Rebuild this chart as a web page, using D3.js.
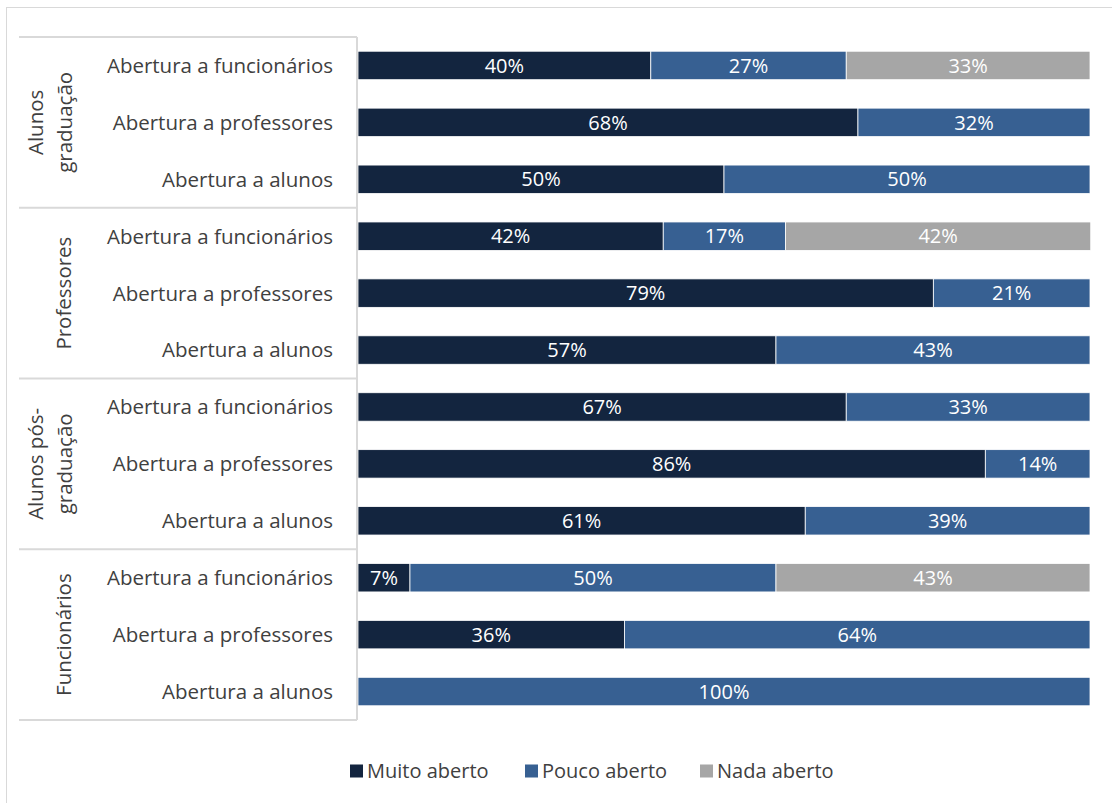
<!DOCTYPE html>
<html>
<head>
<meta charset="utf-8">
<script src="https://cdn.jsdelivr.net/npm/d3@7"></script>
<style>
  body { margin: 0; background: #fff; }
  svg { display: block; font-family: "Open Sans", sans-serif; }
</style>
</head>
<body>
<svg width="1112" height="803"></svg>
<script>
// groups (top to bottom) and the rows inside each group
const groups = [["Alunos", "graduação"], ["Professores"], ["Alunos pós-", "graduação"], ["Funcionários"]];
const rows = ["Abertura a funcionários", "Abertura a professores", "Abertura a alunos"];
const seriesNames = ["Muito aberto", "Pouco aberto", "Nada aberto"];

// shares per row, in the order groups x rows
const muito = [40.0, 68.3, 50.0, 41.7, 78.6, 57.1, 66.7, 85.7, 61.1, 7.1, 36.4, 0];
const pouco = [26.7, 31.7, 50.0, 16.7, 21.4, 42.9, 33.3, 14.3, 38.9, 50.0, 63.6, 100];
const nada  = [33.3, 0, 0, 41.7, 0, 0, 0, 0, 0, 42.9, 0, 0];

const colors = ["#13253f", "#376092", "#a6a6a6"];

const svg = d3.select("svg");

// outer chart frame
svg.append("rect")
    .attr("x", 6.5).attr("y", 7.5)
    .attr("width", 1120).attr("height", 820)
    .attr("fill", "none")
    .attr("stroke", "#d9d9d9");

const plot = { left: 358, right: 1090, top: 37, bottom: 720 };

const data = [];
groups.forEach((g, gi) => rows.forEach((r, ri) => {
    const i = gi * rows.length + ri;
    data.push({ key: gi + "|" + r, group: gi, row: r, "Muito aberto": muito[i], "Pouco aberto": pouco[i], "Nada aberto": nada[i] });
}));

const y = d3.scaleBand()
    .domain(data.map(d => d.key))
    .range([plot.top, plot.bottom])
    .paddingInner(0.5)
    .paddingOuter(0.25);

const x = d3.scaleLinear().domain([0, 100]).range([plot.left, plot.right]);

const stacked = d3.stack().keys(seriesNames)(data);

const layers = svg.append("g").selectAll("g")
    .data(stacked)
    .join("g")
    .attr("fill", (d, i) => colors[i]);

layers.selectAll("rect")
    .data(d => d.filter(s => s[1] - s[0] > 0))
    .join("rect")
    .attr("x", d => x(d[0]))
    .attr("y", d => y(d.data.key))
    .attr("width", d => x(d[1]) - x(d[0]))
    .attr("height", y.bandwidth())
    .attr("stroke", "#fff")
    .attr("stroke-width", 0.8);

layers.selectAll("text")
    .data(d => d.filter(s => s[1] - s[0] > 0))
    .join("text")
    .attr("x", d => (x(d[0]) + x(d[1])) / 2)
    .attr("y", d => y(d.data.key) + y.bandwidth() / 2)
    .attr("dy", "0.36em")
    .attr("text-anchor", "middle")
    .attr("fill", "#fff")
    .style("font-size", "20px")
    .text(d => d3.format(".0%")((d[1] - d[0]) / 100));

// category axis
const axis = svg.append("g").attr("stroke", "#d9d9d9").attr("stroke-width", 2);
axis.append("line")
    .attr("x1", plot.left - 1).attr("x2", plot.left - 1)
    .attr("y1", plot.top).attr("y2", plot.bottom);

const step = (plot.bottom - plot.top) / groups.length;
d3.range(groups.length + 1).forEach(i => {
    axis.append("line")
        .attr("x1", 19).attr("x2", plot.left - 1)
        .attr("y1", plot.top + i * step).attr("y2", plot.top + i * step);
});

svg.append("g").selectAll("text")
    .data(data)
    .join("text")
    .attr("x", 333)
    .attr("y", d => y(d.key) + y.bandwidth() / 2)
    .attr("dy", "0.36em")
    .attr("text-anchor", "end")
    .attr("fill", "#404040")
    .style("font-size", "20.5px")
    .text(d => d.row);

// rotated group labels
const gl = svg.append("g").selectAll("text")
    .data(groups)
    .join("text")
    .attr("transform", (d, i) => `translate(${d.length > 1 ? 50 : 64}, ${plot.top + (i + 0.5) * step}) rotate(-90)`)
    .attr("text-anchor", "middle")
    .attr("fill", "#404040")
    .style("font-size", "20.5px");

gl.selectAll("tspan")
    .data(d => d.map((t, j) => ({ t, j, n: d.length })))
    .join("tspan")
    .attr("x", 0)
    .attr("y", d => (d.j - (d.n - 1) / 2) * 29)
    .attr("dy", "0.36em")
    .text(d => d.t);

// legend
const legendX = [350, 525, 700];
const legend = svg.append("g").selectAll("g")
    .data(seriesNames)
    .join("g")
    .attr("transform", (d, i) => `translate(${legendX[i]}, 771)`);

legend.append("rect")
    .attr("x", 0).attr("y", -6.5)
    .attr("width", 13).attr("height", 13)
    .attr("fill", (d, i) => colors[i]);

legend.append("text")
    .attr("x", 17)
    .attr("dy", "0.36em")
    .attr("fill", "#404040")
    .style("font-size", "20px")
    .text(d => d);
</script>
</body>
</html>
